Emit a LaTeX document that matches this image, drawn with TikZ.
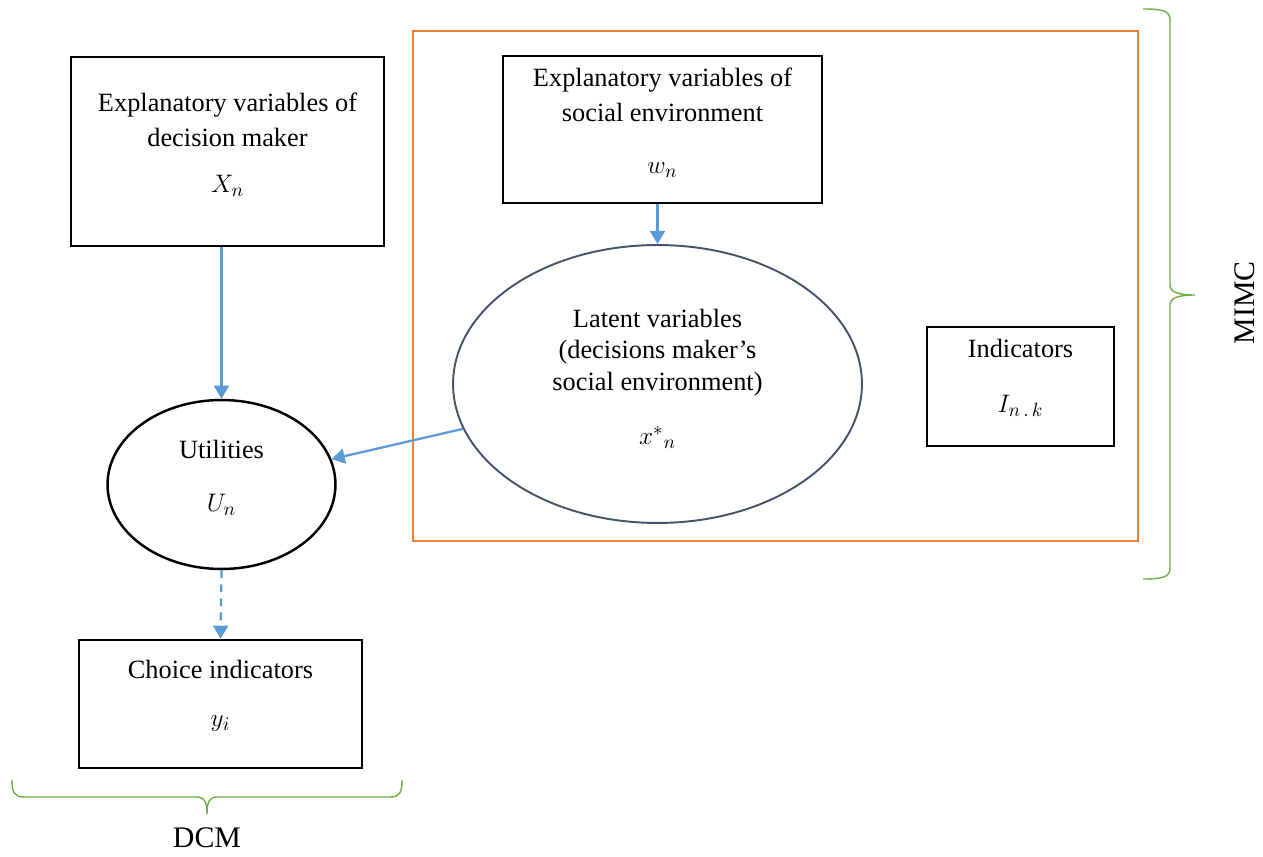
\documentclass[tikz,border=0pt]{standalone}
\usepackage{fontspec}
\setmainfont{Liberation Serif}
\usetikzlibrary{shapes.geometric}
\usetikzlibrary{arrows.meta}
\definecolor{linkblue}{HTML}{5B9BD5}
\definecolor{frameorange}{HTML}{ED7D31}
\definecolor{bracegreen}{HTML}{70AD47}
\definecolor{latentslate}{HTML}{44546A}
\newcommand{\Txt}{\fontsize{15}{20}\selectfont}% text in boxes
\newcommand{\BigTxt}{\fontsize{17}{20}\selectfont}% brace labels

\begin{document}
\begin{tikzpicture}[x=0.02cm,y=-0.02cm,
    varbox/.style={draw,line width=1.4pt,align=center,font=\Txt,inner sep=0pt,text depth=10pt},
    varoval/.style={draw,ellipse,line width=1.4pt,align=center,font=\Txt,inner sep=0pt,text depth=10pt},
    link/.style={draw=linkblue,line width=1.3pt,-{Triangle[length=7.5pt,width=8.5pt]}},
    brace/.style={draw=bracegreen,line width=0.8pt}]
        \useasboundingbox (0,0) rectangle (1263,857);

        % MIMC part
        \draw[frameorange,line width=1.4pt] (413,31) rectangle (1138,541);

        \node[varbox,minimum width=6.26cm,minimum height=3.78cm] (xbox) at (227.5,151.5)
            {Explanatory variables of\\decision maker\\[6pt]$X_n$};
        \node[varbox,minimum width=6.38cm,minimum height=2.94cm] (wbox) at (662.5,129.5)
            {Explanatory variables of\\social environment\\[10pt]$w_n$};
        \node[varoval,draw=latentslate,line width=1.1pt,font=\fontsize{15}{18}\selectfont,
            text depth=8pt,minimum width=8.18cm,minimum height=5.56cm] (latent) at (657.5,384)
            {Latent variables\\(decisions maker’s\\social environment)\\[13pt]$x^{*}{}_{n}$};
        \node[varbox,text depth=12pt,minimum width=3.74cm,minimum height=2.38cm] (ind) at (1020.5,386.5)
            {Indicators\\[11pt]$I_{n\,.\,k}$};
        \node[varoval,minimum width=4.56cm,minimum height=3.38cm] (util) at (221.5,484.5)
            {Utilities\\[10pt]$U_n$};
        \node[varbox,text depth=12pt,minimum width=5.66cm,minimum height=2.56cm] (choice) at (220.5,704)
            {Choice indicators\\[7pt]$y_i$};

        \draw[link] (xbox.south -| util.north) -- (util.north);
        \draw[link] (wbox.south -| latent.north) -- (latent.north);
        \draw[link] (latent) -- (util);
        \draw[link,dash pattern=on 4.5pt off 3.5pt] (util.south) -- (choice.north);

        % braces
        \draw[brace] (1143,9) .. controls (1163,9) and (1170,11) .. (1170,20) -- (1170,285)
            .. controls (1170,292) and (1178,295) .. (1195,295)
            .. controls (1178,295) and (1170,298) .. (1170,305) -- (1170,568)
            .. controls (1170,577) and (1163,579) .. (1143,579);
        \node[rotate=90,font=\BigTxt] (mimc) at (1245,303) {MIMC};

        \draw[brace] (12,780) .. controls (12,792) and (14,797) .. (24,797) -- (197,797)
            .. controls (204,797) and (207,801) .. (207,814)
            .. controls (207,801) and (210,797) .. (217,797) -- (390,797)
            .. controls (400,797) and (402,792) .. (402,780);
        \node[font=\BigTxt] (dcm) at (207,838) {DCM};
\end{tikzpicture}
\end{document}
